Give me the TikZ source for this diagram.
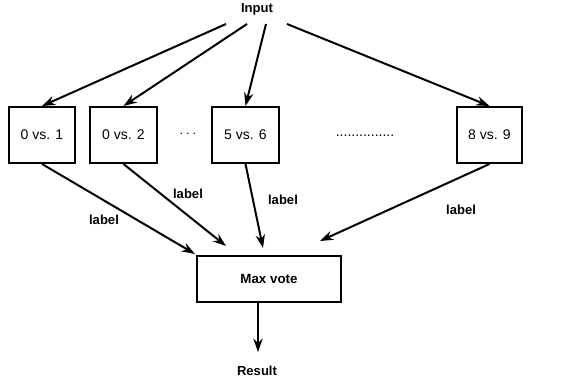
\documentclass[tikz,border=0pt]{standalone}
\usepackage{fontspec}
\setmainfont{Liberation Sans}
\usetikzlibrary{arrows.meta}
\begin{document}
\begin{tikzpicture}[x=0.75pt,y=-0.75pt,
  box/.style={draw,line width=1.5pt,inner sep=0pt,font=\fontsize{10.5pt}{12pt}\selectfont},
  lbl/.style={font=\bfseries\fontsize{9.8pt}{11pt}\selectfont,inner sep=0pt},
  conn/.style={line width=1.5pt,-{Stealth[length=10pt,width=7pt]}}]
\useasboundingbox (0,0) rectangle (563,385);
\node[lbl] (in) at (257,9) {Input};
\coordinate (i1) at (226,24);
\coordinate (i2) at (247,24);
\coordinate (i3) at (266,24);
\coordinate (i4) at (287,24);
\node[box,minimum height=56*0.75pt,minimum width=66*0.75pt] (b1) at (42,135) {0 vs. 1};
\node[box,minimum height=56*0.75pt,minimum width=67*0.75pt] (b2) at (123.5,135) {0 vs. 2};
\node[box,minimum height=56*0.75pt,minimum width=67*0.75pt] (b3) at (245.5,135) {5 vs. 6};
\node[box,minimum height=56*0.75pt,minimum width=65*0.75pt] (b4) at (489.5,135) {8 vs. 9};
\node[font=\fontsize{10.5pt}{12pt}\selectfont] (d1) at (188,134) {$\cdots$};
\node[font=\fontsize{10.5pt}{12pt}\selectfont] (d2) at (365,136) {...............};
\draw[conn] (i1) -- (b1.north);
\draw[conn] (i2) -- (b2.north);
\draw[conn] (i3) -- (b3.north);
\draw[conn] (i4) -- (b4.north);
\node[box,font=\bfseries\fontsize{10pt}{12pt}\selectfont,minimum width=144*0.75pt,minimum height=46*0.75pt] (mv) at (269,279) {Max vote};
\coordinate (m1) at (195,254);
\coordinate (m2) at (226,246);
\coordinate (m3) at (263,248);
\coordinate (m4) at (320,241);
\draw[conn] (b1.south) -- (m1);
\draw[conn] (b2.south) -- (m2);
\draw[conn] (b3.south) -- (m3);
\draw[conn] (b4.south) -- (m4);
\node[lbl] (l1) at (104,220) {label};
\node[lbl] (l2) at (188,194) {label};
\node[lbl] (l3) at (283,200) {label};
\node[lbl] (l4) at (461,210) {label};
\node[lbl] (res) at (257,371) {Result};
\coordinate (r1) at (258,352);
\draw[conn] (mv.south -| r1) -- (r1);
\end{tikzpicture}
\end{document}
